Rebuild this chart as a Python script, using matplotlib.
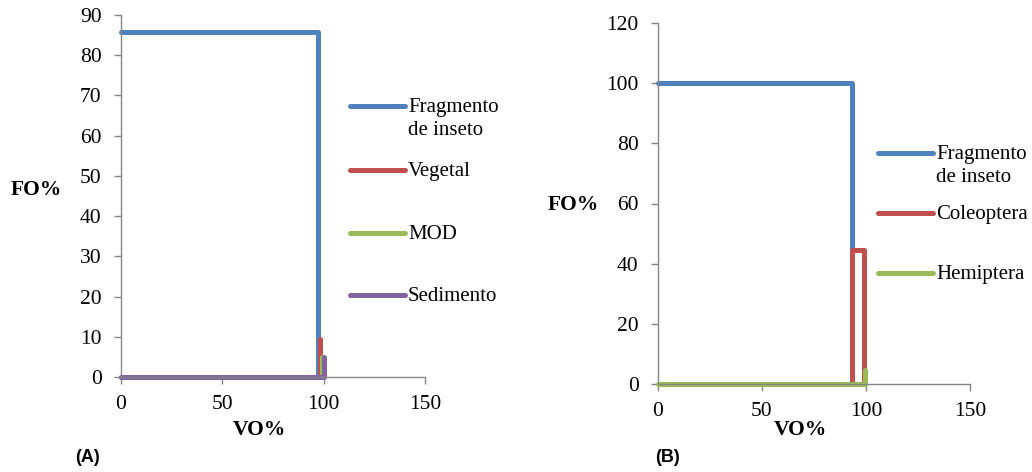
import numpy as np
import matplotlib
matplotlib.use('Agg')
import matplotlib.pyplot as plt
from matplotlib.lines import Line2D

plt.rcParams['font.family'] = ['Liberation Serif', 'DejaVu Serif']

# panel A series (Costello plot paths, VO% vs FO%)
a_frag_x = [0, 97, 97]
a_frag_y = [85.7, 85.7, 0]
a_veg_x = [0, 98, 98]
a_veg_y = [0, 0, 9.5]
a_mod_x = [0, 99, 99]
a_mod_y = [0, 0, 5]
a_sed_x = [0, 100, 100]
a_sed_y = [0, 0, 5]
a_labels = ['Fragmento\nde inseto', 'Vegetal', 'MOD', 'Sedimento']

# panel B series
b_frag_x = [0, 93.5, 93.5]
b_frag_y = [100, 100, 0]
b_col_x = [93.5, 93.5, 99, 99]
b_col_y = [0, 44.4, 44.4, 0]
b_hem_x = [0, 99.5, 99.5]
b_hem_y = [0, 0, 4.5]
b_labels = ['Fragmento\nde inseto', 'Coleoptera', 'Hemiptera']

colors = ['#4F81BD', '#C0504D', '#9BBB59', '#8064A2']
W, H = 1032, 472
lw = 3.6
fs = 15.5

fig = plt.figure(figsize=(W / 100, H / 100), dpi=100)

def fx(px):
    return px / W

def fy(py):
    return 1 - py / H

def style_axes(ax, ymax, ystep):
    ax.set_xlim(0, 150)
    ax.set_ylim(0, ymax)
    ax.set_xticks([0, 50, 100, 150])
    ax.set_yticks(np.arange(0, ymax + 1, ystep))
    for s in ['top', 'right']:
        ax.spines[s].set_visible(False)
    for s in ['left', 'bottom']:
        ax.spines[s].set_color('#868686')
        ax.spines[s].set_linewidth(1.0)
    ax.tick_params(direction='out', length=5, width=1, color='#868686',
                   labelsize=fs)
    ax.tick_params(axis='x', pad=8)
    ax.tick_params(axis='y', pad=9)

def legend(items, x0, ys):
    for (lab, c), y in zip(items, ys):
        fig.add_artist(Line2D([fx(x0), fx(x0 + 55)], [fy(y), fy(y)], color=c,
                              lw=lw, solid_capstyle='round',
                              transform=fig.transFigure))
        fig.text(fx(x0 + 58), fy(y - 8), lab, fontsize=15, va='top',
                 ha='left', linespacing=1.3)

# ---- panel A
axA = fig.add_axes([fx(121), fy(377), fx(425) - fx(121), fy(15) - fy(377)])
for xs, ys, c in zip([a_frag_x, a_veg_x, a_mod_x, a_sed_x],
                     [a_frag_y, a_veg_y, a_mod_y, a_sed_y], colors):
    axA.plot(xs, ys, color=c, lw=lw, solid_capstyle='round',
             solid_joinstyle='round', clip_on=False)
style_axes(axA, 90, 10)
fig.text(fx(36), fy(190), 'FO%', fontsize=fs, fontweight='bold',
         ha='center', va='center')
fig.text(fx(259), fy(430), 'VO%', fontsize=fs, fontweight='bold',
         ha='center', va='center')
fig.text(fx(88), fy(457), '(A)', fontsize=13, fontweight='bold',
         ha='center', va='center', family=['Liberation Sans', 'DejaVu Sans'])
legend(zip(a_labels, colors), 350, [106, 170, 233, 295])

# ---- panel B
axB = fig.add_axes([fx(658), fy(384), fx(970) - fx(658), fy(23) - fy(384)])
for xs, ys, c in zip([b_frag_x, b_col_x, b_hem_x],
                     [b_frag_y, b_col_y, b_hem_y], colors):
    axB.plot(xs, ys, color=c, lw=lw, solid_capstyle='round',
             solid_joinstyle='round', clip_on=False)
style_axes(axB, 120, 20)
fig.text(fx(573), fy(205), 'FO%', fontsize=fs, fontweight='bold',
         ha='center', va='center')
fig.text(fx(800), fy(430), 'VO%', fontsize=fs, fontweight='bold',
         ha='center', va='center')
fig.text(fx(667), fy(457), '(B)', fontsize=13, fontweight='bold',
         ha='center', va='center', family=['Liberation Sans', 'DejaVu Sans'])
legend(zip(b_labels, colors), 878, [153, 213, 273])

fig.savefig('out.png', dpi=100)
